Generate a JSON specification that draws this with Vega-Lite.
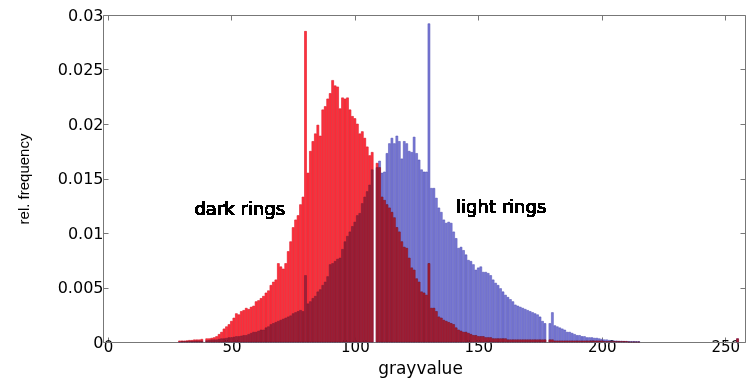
{
  "$schema": "https://vega.github.io/schema/vega-lite/v6.json",
  "width": 642,
  "height": 327,
  "autosize": {"type": "none"},
  "padding": {"left": 103, "top": 15, "right": 6, "bottom": 38},
  "background": "white",
  "config": {"view": {"stroke": null}, "font": "DejaVu Sans"},
  "data": {"values": [
    {"gray":29,"dark":0.0001,"light":0},
    {"gray":30,"dark":0.0001,"light":0.00005},
    {"gray":31,"dark":0.0001,"light":0.00005},
    {"gray":32,"dark":0.00012,"light":0.00005},
    {"gray":33,"dark":0.00015,"light":0.00008},
    {"gray":34,"dark":0.00015,"light":0.00008},
    {"gray":35,"dark":0.0002,"light":0.0001},
    {"gray":36,"dark":0.0002,"light":0.0001},
    {"gray":37,"dark":0.0002,"light":0.0001},
    {"gray":38,"dark":0.00025,"light":0.0001},
    {"gray":40,"dark":0.0003,"light":0.00012},
    {"gray":41,"dark":0.0003,"light":0.00015},
    {"gray":42,"dark":0.00035,"light":0.0002},
    {"gray":43,"dark":0.0004,"light":0.0002},
    {"gray":44,"dark":0.0005,"light":0.0002},
    {"gray":45,"dark":0.0007,"light":0.00025},
    {"gray":46,"dark":0.0009,"light":0.0003},
    {"gray":47,"dark":0.0012,"light":0.0003},
    {"gray":48,"dark":0.0014,"light":0.00035},
    {"gray":49,"dark":0.0016,"light":0.0004},
    {"gray":50,"dark":0.0019,"light":0.0004},
    {"gray":51,"dark":0.0022,"light":0.00045},
    {"gray":52,"dark":0.0026,"light":0.0005},
    {"gray":53,"dark":0.0025,"light":0.0005},
    {"gray":54,"dark":0.0028,"light":0.00055},
    {"gray":55,"dark":0.0029,"light":0.0006},
    {"gray":56,"dark":0.0031,"light":0.0006},
    {"gray":57,"dark":0.0030,"light":0.0007},
    {"gray":58,"dark":0.0032,"light":0.0008},
    {"gray":59,"dark":0.0033,"light":0.0009},
    {"gray":60,"dark":0.0037,"light":0.0009},
    {"gray":61,"dark":0.0038,"light":0.0010},
    {"gray":62,"dark":0.0040,"light":0.0011},
    {"gray":63,"dark":0.0042,"light":0.0011},
    {"gray":64,"dark":0.0045,"light":0.0013},
    {"gray":65,"dark":0.0047,"light":0.0014},
    {"gray":66,"dark":0.0052,"light":0.0016},
    {"gray":67,"dark":0.0055,"light":0.0017},
    {"gray":68,"dark":0.0057,"light":0.0018},
    {"gray":69,"dark":0.0072,"light":0.0019},
    {"gray":70,"dark":0.0069,"light":0.0020},
    {"gray":71,"dark":0.0067,"light":0.0021},
    {"gray":72,"dark":0.0072,"light":0.0022},
    {"gray":73,"dark":0.0083,"light":0.0023},
    {"gray":74,"dark":0.0092,"light":0.0024},
    {"gray":75,"dark":0.0105,"light":0.0026},
    {"gray":76,"dark":0.0112,"light":0.0027},
    {"gray":77,"dark":0.0116,"light":0.0028},
    {"gray":78,"dark":0.0126,"light":0.0029},
    {"gray":79,"dark":0.0133,"light":0.0028},
    {"gray":80,"dark":0.0285,"light":0.0061},
    {"gray":81,"dark":0.0155,"light":0.0035},
    {"gray":82,"dark":0.0175,"light":0.0037},
    {"gray":83,"dark":0.0184,"light":0.0040},
    {"gray":84,"dark":0.0191,"light":0.0042},
    {"gray":85,"dark":0.0199,"light":0.0046},
    {"gray":86,"dark":0.0189,"light":0.0048},
    {"gray":87,"dark":0.0213,"light":0.0052},
    {"gray":88,"dark":0.0216,"light":0.0055},
    {"gray":89,"dark":0.0223,"light":0.0060},
    {"gray":90,"dark":0.0228,"light":0.0071},
    {"gray":91,"dark":0.0240,"light":0.0072},
    {"gray":92,"dark":0.0235,"light":0.0074},
    {"gray":93,"dark":0.0234,"light":0.0076},
    {"gray":94,"dark":0.0214,"light":0.0077},
    {"gray":95,"dark":0.0224,"light":0.0085},
    {"gray":96,"dark":0.0223,"light":0.0092},
    {"gray":97,"dark":0.0224,"light":0.0097},
    {"gray":98,"dark":0.0213,"light":0.0101},
    {"gray":99,"dark":0.0207,"light":0.0106},
    {"gray":100,"dark":0.0205,"light":0.0110},
    {"gray":101,"dark":0.0200,"light":0.0116},
    {"gray":102,"dark":0.0191,"light":0.0118},
    {"gray":103,"dark":0.0193,"light":0.0127},
    {"gray":104,"dark":0.0187,"light":0.0133},
    {"gray":105,"dark":0.0179,"light":0.0138},
    {"gray":106,"dark":0.0171,"light":0.0144},
    {"gray":107,"dark":0.0174,"light":0.0158},
    {"gray":109,"dark":0.0164,"light":0.0160},
    {"gray":110,"dark":0.0160,"light":0.0166},
    {"gray":111,"dark":0.0133,"light":0.0155},
    {"gray":112,"dark":0.0130,"light":0.0156},
    {"gray":113,"dark":0.0126,"light":0.0173},
    {"gray":114,"dark":0.0123,"light":0.0182},
    {"gray":115,"dark":0.0119,"light":0.0187},
    {"gray":116,"dark":0.0114,"light":0.0182},
    {"gray":117,"dark":0.0105,"light":0.0189},
    {"gray":118,"dark":0.0101,"light":0.0184},
    {"gray":119,"dark":0.0092,"light":0.0168},
    {"gray":120,"dark":0.0087,"light":0.0184},
    {"gray":121,"dark":0.0086,"light":0.0182},
    {"gray":122,"dark":0.0077,"light":0.0175},
    {"gray":123,"dark":0.0068,"light":0.0174},
    {"gray":124,"dark":0.0066,"light":0.0188},
    {"gray":125,"dark":0.0058,"light":0.0173},
    {"gray":126,"dark":0.0055,"light":0.0167},
    {"gray":127,"dark":0.0046,"light":0.0158},
    {"gray":128,"dark":0.0045,"light":0.0156},
    {"gray":129,"dark":0.0043,"light":0.0156},
    {"gray":130,"dark":0.0072,"light":0.0292},
    {"gray":131,"dark":0.0031,"light":0.0141},
    {"gray":132,"dark":0.0031,"light":0.0141},
    {"gray":133,"dark":0.0028,"light":0.0132},
    {"gray":134,"dark":0.0023,"light":0.0123},
    {"gray":135,"dark":0.0022,"light":0.0119},
    {"gray":136,"dark":0.0020,"light":0.0112},
    {"gray":137,"dark":0.0019,"light":0.0109},
    {"gray":138,"dark":0.0018,"light":0.0110},
    {"gray":139,"dark":0.0017,"light":0.0109},
    {"gray":140,"dark":0.0016,"light":0.0101},
    {"gray":141,"dark":0.0013,"light":0.0095},
    {"gray":142,"dark":0.0011,"light":0.0086},
    {"gray":143,"dark":0.0010,"light":0.0087},
    {"gray":144,"dark":0.0009,"light":0.0084},
    {"gray":145,"dark":0.0009,"light":0.0080},
    {"gray":146,"dark":0.0008,"light":0.0075},
    {"gray":147,"dark":0.0007,"light":0.0074},
    {"gray":148,"dark":0.0006,"light":0.0071},
    {"gray":149,"dark":0.0006,"light":0.0066},
    {"gray":150,"dark":0.0005,"light":0.0068},
    {"gray":151,"dark":0.0005,"light":0.0069},
    {"gray":152,"dark":0.0005,"light":0.0064},
    {"gray":153,"dark":0.0004,"light":0.0064},
    {"gray":154,"dark":0.0004,"light":0.0063},
    {"gray":155,"dark":0.0004,"light":0.0061},
    {"gray":156,"dark":0.0003,"light":0.0057},
    {"gray":157,"dark":0.0003,"light":0.0054},
    {"gray":158,"dark":0.0003,"light":0.0052},
    {"gray":159,"dark":0.0003,"light":0.0049},
    {"gray":160,"dark":0.0003,"light":0.0046},
    {"gray":161,"dark":0.0003,"light":0.0043},
    {"gray":162,"dark":0.0002,"light":0.0041},
    {"gray":163,"dark":0.0002,"light":0.0039},
    {"gray":164,"dark":0.0002,"light":0.0037},
    {"gray":165,"dark":0.0002,"light":0.0034},
    {"gray":166,"dark":0.0002,"light":0.0033},
    {"gray":167,"dark":0.0002,"light":0.0032},
    {"gray":168,"dark":0.0002,"light":0.0031},
    {"gray":169,"dark":0.0002,"light":0.0030},
    {"gray":170,"dark":0.0002,"light":0.0029},
    {"gray":171,"dark":0.0002,"light":0.0028},
    {"gray":172,"dark":0.0002,"light":0.0027},
    {"gray":173,"dark":0.0002,"light":0.0026},
    {"gray":174,"dark":0.0002,"light":0.0025},
    {"gray":175,"dark":0.0002,"light":0.0023},
    {"gray":176,"dark":0.0002,"light":0.0019},
    {"gray":177,"dark":0.0002,"light":0.0017},
    {"gray":179,"dark":0.0002,"light":0.0017},
    {"gray":180,"dark":0.0002,"light":0.0027},
    {"gray":181,"dark":0.0001,"light":0.0015},
    {"gray":182,"dark":0.0001,"light":0.0014},
    {"gray":183,"dark":0.0001,"light":0.0013},
    {"gray":184,"dark":0.0001,"light":0.0012},
    {"gray":185,"dark":0.0001,"light":0.0011},
    {"gray":186,"dark":0.0001,"light":0.0009},
    {"gray":187,"dark":0.0001,"light":0.0009},
    {"gray":188,"dark":0.0001,"light":0.0008},
    {"gray":189,"dark":0.0001,"light":0.0007},
    {"gray":190,"dark":0.0001,"light":0.0006},
    {"gray":191,"dark":0.0001,"light":0.0006},
    {"gray":192,"dark":0.0001,"light":0.0005},
    {"gray":193,"dark":0.0001,"light":0.0005},
    {"gray":194,"dark":0.0001,"light":0.0004},
    {"gray":195,"dark":0.0001,"light":0.0004},
    {"gray":196,"dark":0.0001,"light":0.0004},
    {"gray":197,"dark":0.0001,"light":0.00035},
    {"gray":198,"dark":0.0001,"light":0.00035},
    {"gray":199,"dark":0.0001,"light":0.0003},
    {"gray":200,"dark":0.0001,"light":0.00025},
    {"gray":201,"dark":0.00005,"light":0.0002},
    {"gray":202,"dark":0.00005,"light":0.0002},
    {"gray":203,"dark":0.00005,"light":0.00015},
    {"gray":204,"dark":0.00005,"light":0.0001},
    {"gray":205,"dark":0.00005,"light":0.0001},
    {"gray":206,"dark":0.00005,"light":0.0001},
    {"gray":207,"dark":0.00005,"light":0.00008},
    {"gray":208,"dark":0.00005,"light":0.00008},
    {"gray":209,"dark":0.00005,"light":0.00006},
    {"gray":210,"dark":0.00005,"light":0.00006},
    {"gray":211,"dark":0,"light":0.00005},
    {"gray":212,"dark":0,"light":0.00005},
    {"gray":213,"dark":0,"light":0.00005},
    {"gray":214,"dark":0,"light":0.00004},
    {"gray":215,"dark":0,"light":0.00004},
    {"gray":255,"dark":0.0003,"light":0.0003}
  ]},
  "layer": [
    {
      "mark": {"type": "bar", "width": 2.0, "fill": "#7A7AD6", "stroke": "#4A4AB0", "strokeWidth": 0.5},
      "encoding": {
        "x": {"field": "gray", "type": "quantitative",
              "scale": {"domain": [0, 256], "nice": false, "zero": false},
              "axis": {"orient": "bottom", "values": [0, 50, 100, 150, 200, 250], "grid": false,
                       "title": "grayvalue", "titleFont": "DejaVu Sans", "titleFontSize": 17, "titleFontWeight": "normal", "titleColor": "black",
                       "titleX": 317, "titleY": 31, "titleBaseline": "alphabetic", "titleAlign": "center",
                       "labelFont": "DejaVu Sans", "labelFontSize": 15, "labelColor": "black", "labelFlush": false, "labelPadding": 2,
                       "tickSize": -5, "tickColor": "#777", "domainColor": "#777"}},
        "y": {"field": "light", "type": "quantitative",
              "scale": {"domain": [0, 0.03], "nice": false},
              "axis": {"orient": "left", "values": [0, 0.005, 0.01, 0.015, 0.02, 0.025, 0.03], "format": "~g", "grid": false,
                       "title": "rel. frequency", "titleFont": "Liberation Sans", "titleFontSize": 15, "titleFontWeight": "normal", "titleColor": "black",
                       "titleX": -80, "titleY": 163.5, "titleAngle": 270, "titleAlign": "center", "titleBaseline": "middle",
                       "labelFont": "DejaVu Sans", "labelFontSize": 16, "labelColor": "black", "labelFlush": false, "labelPadding": 5,
                       "tickSize": -5, "tickColor": "#777", "domainColor": "#777"}}
      }
    },
    {
      "mark": {"type": "bar", "width": 2.0, "fill": "#FF3340", "stroke": "#D01020", "strokeWidth": 0.5, "blend": "multiply"},
      "encoding": {
        "x": {"field": "gray", "type": "quantitative",
              "scale": {"domain": [0, 256], "nice": false, "zero": false},
              "axis": {"orient": "top", "values": [0, 50, 100, 150, 200, 250], "grid": false, "labels": false, "title": null,
                       "tickSize": -5, "tickColor": "#777", "domainColor": "#777"}},
        "y": {"field": "dark", "type": "quantitative",
              "scale": {"domain": [0, 0.03], "nice": false},
              "axis": {"orient": "right", "values": [0, 0.005, 0.01, 0.015, 0.02, 0.025, 0.03], "grid": false, "labels": false, "title": null,
                       "tickSize": -5, "tickColor": "#777", "domainColor": "#777"}}
      }
    },
    {
      "mark": {"type": "bar", "width": 2.5, "fill": "#FF2A35", "fillOpacity": 0.3, "strokeWidth": 0},
      "encoding": {
        "x": {"field": "gray", "type": "quantitative", "scale": {"domain": [0, 256], "nice": false, "zero": false}, "axis": null},
        "y": {"field": "dark", "type": "quantitative", "scale": {"domain": [0, 0.03], "nice": false}, "axis": null}
      }
    },
    {
      "mark": {"type": "text", "align": "left", "baseline": "alphabetic", "font": "DejaVu Sans", "fontSize": 18, "color": "black"},
      "encoding": {
        "x": {"datum": 35, "type": "quantitative", "axis": null},
        "y": {"datum": 0.01165, "type": "quantitative", "axis": null},
        "text": {"value": "dark rings"}
      }
    },
    {
      "mark": {"type": "text", "align": "left", "baseline": "alphabetic", "font": "DejaVu Sans", "fontSize": 18, "color": "black"},
      "encoding": {
        "x": {"datum": 141, "type": "quantitative", "axis": null},
        "y": {"datum": 0.01183, "type": "quantitative", "axis": null},
        "text": {"value": "light rings"}
      }
    }
  ],
  "resolve": {"axis": {"x": "independent", "y": "independent"}}
}
